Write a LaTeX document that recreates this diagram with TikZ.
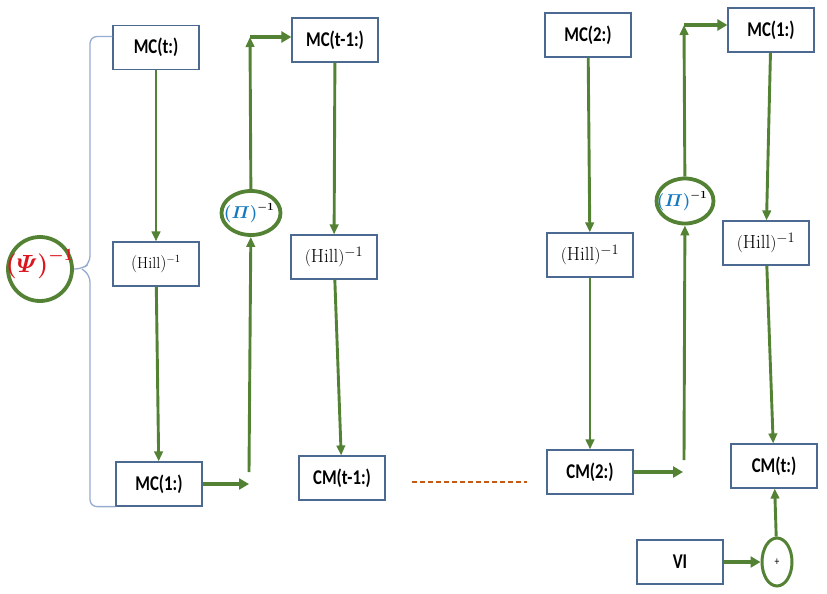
\documentclass[tikz,border=0pt]{standalone}
\usepackage{amsmath}
\usepackage{fontspec}
\usepackage{bm}
\newfontfamily\boxfont[FakeStretch=0.8]{Carlito}
\usetikzlibrary{arrows.meta,calc,shapes.geometric}
\definecolor{flowgreen}{RGB}{84,130,53}
\definecolor{boxblue}{RGB}{75,105,145}
\definecolor{braceblue}{RGB}{150,172,208}
\definecolor{psired}{RGB}{220,20,30}
\definecolor{piblue}{RGB}{20,120,190}
\definecolor{dashorange}{RGB}{197,90,17}

\begin{document}
\begin{tikzpicture}[x=1pt,y=-1pt,every node/.style={font=\boxfont\bfseries\fontsize{21}{24}\selectfont,align=center,text=black},
    blk/.style={draw=boxblue,line width=1.2pt,fill=white,minimum width=86pt,minimum height=44pt,inner sep=0pt},
    ring/.style={draw=flowgreen,line width=3.8pt,ellipse,inner sep=0pt},
    flow/.style={draw=flowgreen,line width=2.9pt,-{Triangle[length=10pt,width=8.5pt]}},
    push/.style={draw=flowgreen,line width=4.8pt,-{Triangle[length=10pt,width=11pt]}}]
        \fill[white] (0,0) rectangle (827,594);
        \useasboundingbox (0,0) rectangle (827,594);
        % first column
        \node[blk] (mct) at (156,47.5) {MC(t:)};
        \node[blk] (hilla) at (156,264) {\fontsize{16}{18}\selectfont$(\mathrm{Hill})^{-1}$};
        \node[blk] (mcone) at (159,484) {MC(1:)};
        \node[ring,minimum width=64pt,minimum height=64pt] (psi) at (40,269) {};
        \node[text=psired] (psilabel) at (40,264) {\fontsize{24}{26}\selectfont$\bm{(\varPsi)^{-1}}$};
        % second column
        \node[ring,minimum width=59pt,minimum height=44pt] (pia) at (251,213) {};
        \node (pialabel) at ([xshift=-2pt]pia.center) {\fontsize{16}{18}\selectfont$\bm{\textcolor{piblue}{(\varPi)}^{-1}}$};
        \node[blk] (mctm) at (335,40) {MC(t-1:)};
        \node[blk] (hillb) at (334,257) {\fontsize{19}{21}\selectfont$(\mathrm{Hill})^{-1}$};
        \node[blk] (cmtm) at (342,478) {CM(t-1:)};
        % third column
        \node[blk] (mctwo) at (588,35) {MC(2:)};
        \node[blk] (hillc) at (590,255) {\fontsize{19}{21}\selectfont$(\mathrm{Hill})^{-1}$};
        \node[blk] (cmtwo) at (590,472) {CM(2:)};
        \node[ring,minimum width=57pt,minimum height=45pt] (pib) at (685,201) {};
        \node (piblabel) at ([xshift=-3pt]pib.center) {\fontsize{16}{18}\selectfont$\bm{\textcolor{piblue}{(\varPi)}^{-1}}$};
        % last column
        \node[blk] (mconer) at (771,30) {MC(1:)};
        \node[blk] (hilld) at (766,243) {\fontsize{19}{21}\selectfont$(\mathrm{Hill})^{-1}$};
        \node[blk] (cmt) at (774,466) {CM(t:)};
        \node[blk] (vi) at (680,562) {VI};
        \node[ring,line width=3pt,minimum width=30pt,minimum height=48pt,font=\boxfont\fontsize{12}{14}\selectfont] (plus) at (777,562) {+};
        % free ends
        \coordinate (inA) at (249,484);
        \coordinate (baseA) at (249,472);
        \coordinate (topA) at (250,37);
        \coordinate (inB) at (683,472);
        \coordinate (baseB) at (684,460);
        \coordinate (topB) at (684,25);
        \coordinate (dotsL) at (412,482);
        \coordinate (dotsR) at (527,482);
        \coordinate (tip) at (82,269);
        % brace
        \draw[braceblue,line width=1.3pt,rounded corners=7pt] ([yshift=11pt]mct.west) -| (90,263) -- (tip) -- (psi.east);
        \draw[braceblue,line width=1.3pt,rounded corners=7pt] (tip) -- (90,275) |- (mcone.south west);
        % connectors
        \draw[flow] (mct) -- (hilla);
        \draw[flow] (hilla) -- (mcone);
        \draw[push] (mcone) -- (inA);
        \draw[flow] (baseA) -- (pia);
        \draw[flow] (pia) -- (topA);
        \draw[push] (topA) -- (topA -| mctm.west);
        \draw[flow] (mctm) -- (hillb);
        \draw[flow] (hillb) -- (cmtm);
        \draw[dashorange,line width=1.6pt,dash pattern=on 5pt off 3pt] (dotsL) -- (dotsR);
        \draw[flow] (mctwo) -- (hillc);
        \draw[flow] (hillc) -- (cmtwo);
        \draw[push] (cmtwo) -- (inB);
        \draw[flow] (baseB) -- (pib);
        \draw[flow] (pib) -- (topB);
        \draw[push] (topB) -- (topB -| mconer.west);
        \draw[flow] (mconer) -- (hilld);
        \draw[flow] (hilld) -- (cmt);
        \draw[flow] (plus) -- (cmt);
        \draw[push] (vi) -- (plus);
      \end{tikzpicture}
\end{document}
